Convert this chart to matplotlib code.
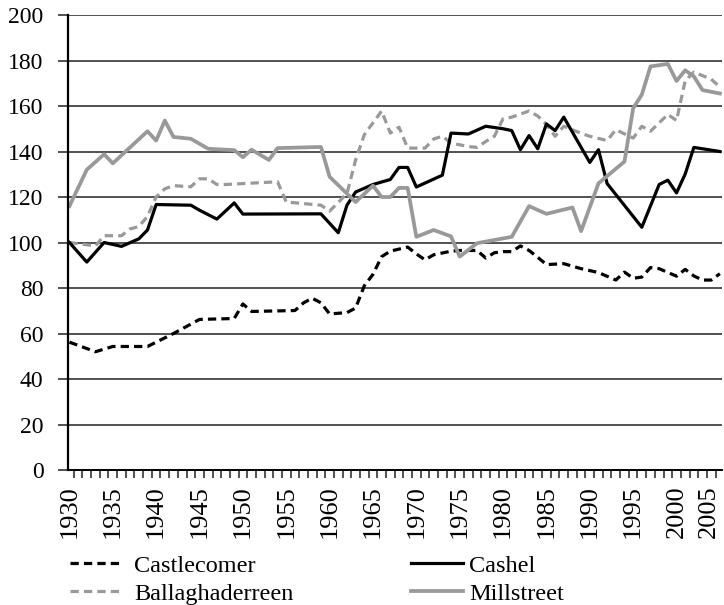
import matplotlib
matplotlib.use("Agg")
import matplotlib.pyplot as plt
from matplotlib.ticker import MultipleLocator, FixedLocator

plt.rcParams['font.family'] = ['Liberation Serif', 'DejaVu Serif']

# data (vertex years only)
castlecomer_years = [1930, 1933, 1935, 1939, 1942, 1945, 1949, 1950, 1951, 1956, 1957, 1958, 1959,
                     1960, 1962, 1963, 1964, 1965, 1966, 1967, 1969, 1970, 1971, 1972, 1974, 1975,
                     1977, 1978, 1979, 1980, 1981, 1982, 1983, 1984, 1985, 1987, 1989, 1991, 1993,
                     1994, 1995, 1996, 1997, 1998, 2000, 2001, 2002, 2003, 2004, 2005]
castlecomer = [56.2, 52, 54.3, 54.3, 60, 66.2, 66.6, 73, 69.7, 70.1, 73.5, 75.5, 73.5,
               68.6, 69.2, 71.2, 81, 86, 93.8, 96.2, 98, 95, 92.4, 94.6, 96.2, 96.5,
               96.5, 93.2, 95.5, 96, 96, 98.5, 96.5, 93.5, 90.3, 90.7, 88.5, 86.8, 83.5,
               87, 84.3, 84.8, 89, 88.5, 85.2, 88.2, 85.3, 83.5, 83.5, 86.3]

ballagh_years = [1930, 1933, 1934, 1936, 1937, 1938, 1939, 1940, 1941, 1942, 1944, 1945, 1946,
                 1947, 1948, 1954, 1955, 1959, 1960, 1962, 1963, 1964, 1966, 1967, 1968, 1969,
                 1971, 1972, 1973, 1974, 1976, 1977, 1978, 1979, 1980, 1981, 1983, 1984, 1985,
                 1986, 1987, 1989, 1990, 1992, 1993, 1995, 1996, 1997, 1999, 2000, 2001, 2002,
                 2004, 2005]
ballagh = [100, 98.5, 103, 103, 106, 107, 111.5, 120, 123.6, 125, 124.5, 128, 128,
           125.5, 125.5, 126.7, 117.8, 116.4, 113.8, 121.5, 136.3, 147.4, 157.8, 148.1, 150.7, 141.5,
           141.5, 145.5, 146.7, 143.7, 142.2, 141.8, 144.4, 146.7, 154.4, 155.1, 157.8, 155.6, 151.9,
           146.7, 151.1, 148, 146.7, 144.8, 149.6, 145.9, 151.1, 148.9, 156.3, 153.6, 171.1, 174.9,
           171.8, 168.3]

cashel_years = [1930, 1932, 1934, 1936, 1938, 1939, 1940, 1944, 1945, 1947, 1949, 1950, 1959,
                1961, 1962, 1963, 1965, 1967, 1968, 1969, 1970, 1973, 1974, 1976, 1978, 1980,
                1981, 1982, 1983, 1984, 1985, 1986, 1987, 1990, 1991, 1992, 1996, 1998, 1999,
                2000, 2001, 2002, 2005]
cashel = [100, 91.4, 100, 98.3, 101.6, 105.5, 116.7, 116.4, 114.2, 110.3, 117.4, 112.5, 112.6,
          104.3, 116.4, 122.2, 125.5, 127.7, 133, 133, 124.4, 129.6, 148.1, 147.7, 151.1, 150,
          149.2, 140.8, 147, 141.2, 152.1, 149.2, 155.1, 135.2, 140.8, 125.9, 106.7, 125.5, 127.4,
          121.8, 130.1, 141.8, 140]

mill_years = [1930, 1932, 1934, 1935, 1939, 1940, 1941, 1942, 1944, 1946, 1949, 1950, 1951,
              1953, 1954, 1959, 1960, 1963, 1965, 1966, 1967, 1968, 1969, 1970, 1972, 1974,
              1975, 1977, 1981, 1983, 1985, 1988, 1989, 1991, 1994, 1995, 1996, 1997, 1999,
              2000, 2001, 2002, 2003, 2005]
mill = [116, 132, 138.8, 134.8, 148.9, 144.8, 153.6, 146.4, 145.6, 141.2, 140.6, 137.5, 140.8,
        136.3, 141.5, 142, 128.9, 117.8, 125, 120, 120, 124, 124, 102.5, 105.5, 102.7,
        93.8, 99.7, 102.5, 116, 112.6, 115.4, 105, 126, 135.6, 159, 165, 177.4, 178.5,
        171, 175.7, 173, 167, 165.5]

year_ticks = list(range(1930, 2006, 5))

gray = '#999999'
lw = 2.3

fig = plt.figure(figsize=(7.24, 6.05), dpi=100)
ax = fig.add_axes([0.0935, 0.2231, 0.9044, 0.7521])

l1, = ax.plot(castlecomer_years, castlecomer, color='black', lw=lw, dashes=(2.6, 1.6),
              label='Castlecomer')
l2, = ax.plot(ballagh_years, ballagh, color=gray, lw=lw, dashes=(2.6, 1.6),
              label='Ballaghaderreen')
l3, = ax.plot(cashel_years, cashel, color='black', lw=lw, label='Cashel')
l4, = ax.plot(mill_years, mill, color=gray, lw=lw + 0.4, label='Millstreet')

ax.set_xlim(1929.8, 2005.3)
ax.set_ylim(0, 200)

ax.yaxis.set_major_locator(MultipleLocator(20))
ax.grid(axis='y', color='#222222', lw=1.1)
ax.set_axisbelow(True)
ax.tick_params(axis='y', direction='out', length=7.5, width=1.1, color='#222222',
               pad=10, labelsize=17)

ax.set_xticks(year_ticks)
ax.set_xticklabels([str(y) for y in year_ticks])
ax.xaxis.set_minor_locator(FixedLocator([y + 0.5 for y in range(1930, 2005)]))
ax.tick_params(axis='x', which='major', length=0, pad=11, labelsize=19, labelrotation=90)
ax.tick_params(axis='x', which='minor', direction='out', length=5.5, width=1.1, color='#222222')
ax.get_xticklabels()[-1].set_horizontalalignment('right')

for s in ['top', 'right']:
    ax.spines[s].set_visible(False)
ax.spines['left'].set_linewidth(1.6)
ax.spines['bottom'].set_linewidth(1.4)

fig.legend([l1, l2], ['Castlecomer', 'Ballaghaderreen'], frameon=False, fontsize=17.5,
           loc='upper left', bbox_to_anchor=(0.0967, 0.083), borderpad=0,
           borderaxespad=0, handlelength=2.06, handletextpad=0.58, labelspacing=0.25)
fig.legend([l3, l4], ['Cashel', 'Millstreet'], frameon=False, fontsize=17.5,
           loc='upper left', bbox_to_anchor=(0.567, 0.083), borderpad=0,
           borderaxespad=0, handlelength=2.15, handletextpad=0.25, labelspacing=0.25)

fig.savefig('out.png', dpi=100)
